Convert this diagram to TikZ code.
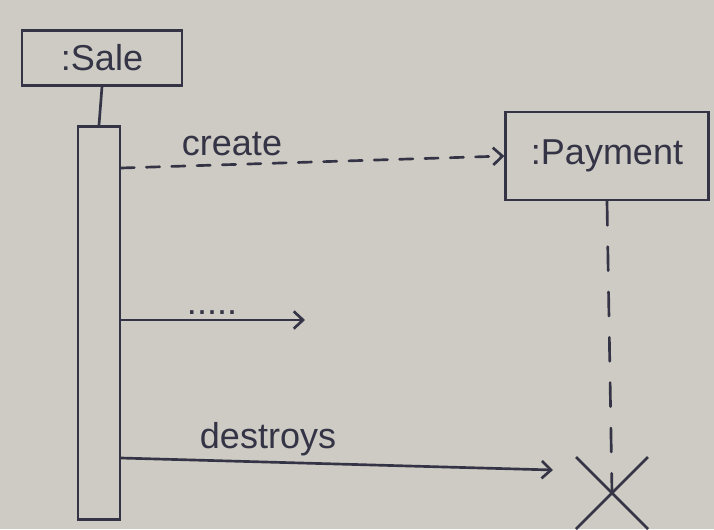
\documentclass[tikz,border=0pt]{standalone}
\usepackage{fontspec}
\setmainfont{Liberation Sans}
\usetikzlibrary{arrows.meta,shapes.misc}
\definecolor{paper}{RGB}{205,203,195}
\definecolor{ink}{RGB}{52,52,70}
\begin{document}
\begin{tikzpicture}[x=0.75pt,y=-0.75pt,
  inkline/.style={draw=ink, line width=2pt},
  object/.style={inkline, rectangle, inner sep=0pt, text=ink,
    font=\fontsize{27}{30}\selectfont},
  activation/.style={inkline, rectangle, inner sep=0pt,
    minimum width=31.5pt, minimum height=295pt},
  msg/.style={inkline, line cap=round, -{Straight Barb[length=7pt,width=13pt,line width=2pt]}},
  lifeline/.style={inkline, line cap=round},
  msglabel/.style={text=ink, inner sep=1pt, font=\fontsize{27}{30}\selectfont},
  destruction/.style={inkline, cross out, minimum size=52pt, inner sep=0pt}]

% paper
\useasboundingbox (0,0) rectangle (714,529);
\fill[paper] (0,0) rectangle (714,529);

% objects
\node[object, minimum width=120pt, minimum height=41pt] (sale) at (102,58) {:Sale};
\node[object, minimum width=152pt, minimum height=66pt] (payment) at (607,156) {:Payment};

% activation bar of :Sale
\node[activation] (bar) at (99,323) {};
\draw[lifeline] (sale.south) -- (bar.north);

% destruction mark and lifeline of :Payment
\node[destruction] (x) at (612,493) {};
\draw[lifeline, dash pattern=on 18pt off 16pt] (payment.south) -- (x.center);

% message end points
\coordinate (cstart) at (121,168);
\coordinate (m2end) at (305,320);
\coordinate (dstart) at (121,458);
\coordinate (dend) at (553,470);

% create
\draw[msg, dashed, dash pattern=on 10pt off 9pt] (cstart) -- (payment.west);
\node[msglabel, anchor=south] (createlbl) at (232,157) {create};

% intermediate message
\draw[msg] (bar.east |- m2end) -- (m2end);
\node[msglabel, anchor=south] (dotslbl) at (212,316) {.....};

% destroys
\draw[msg] (dstart) -- (dend);
\node[msglabel, anchor=south] (destroylbl) at (268,458) {destroys};
\end{tikzpicture}
\end{document}
